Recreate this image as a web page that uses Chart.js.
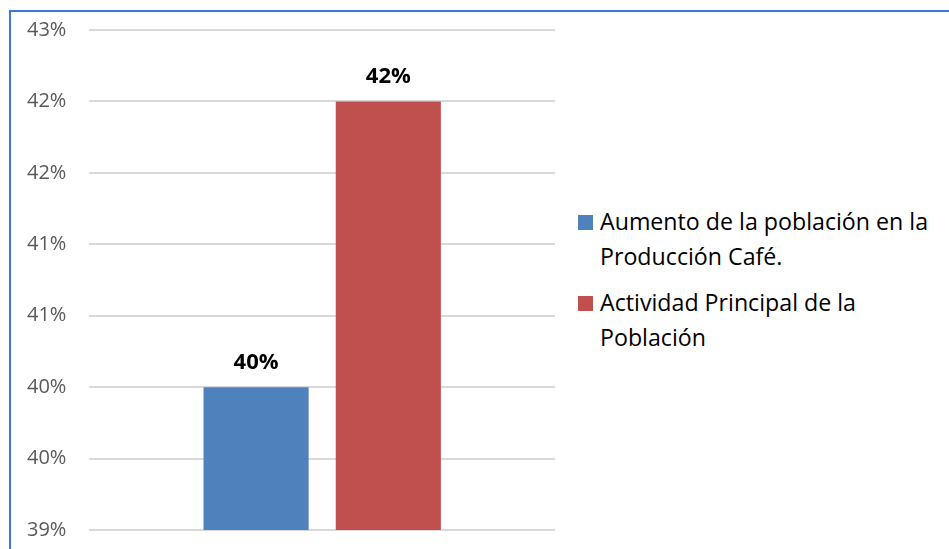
<!DOCTYPE html>
<html>
<head>
<meta charset="utf-8">
<script src="https://cdn.jsdelivr.net/npm/chart.js@4/dist/chart.umd.min.js"></script>
<style>
  html, body { margin: 0; padding: 0; background: #fff; }
  body { width: 949px; height: 549px; position: relative; overflow: hidden; font-family: "Open Sans", sans-serif; }
  #frame { position: absolute; left: 9px; top: 10px; width: 960px; height: 560px; border: 2px solid #3b78d8; box-sizing: border-box; }
  #wrap { position: absolute; left: 0; top: 0; width: 575px; height: 549px; }
  #legend { position: absolute; left: 578px; top: 204px; width: 365px; }
  .item { position: relative; padding-left: 22px; font-size: 23.2px; line-height: 35px; color: #000; margin-bottom: 11px; }
  .sw { position: absolute; left: 0; top: 11px; width: 15px; height: 15px; }
</style>
</head>
<body>
<div id="frame"></div>
<div id="wrap"><canvas id="c" width="575" height="549"></canvas></div>
<div id="legend"></div>
<script>
const categories = [""];
const seriesNames = ["Aumento de la población en la Producción Café.", "Actividad Principal de la Población"];
const seriesValues = [[40], [42]];
const seriesColors = ["#4F81BD", "#C0504D"];
const valueLabels = ["40%", "42%"];
const yMin = 39, yMax = 42.5, yStep = 0.5;

const legend = document.getElementById('legend');
seriesNames.forEach((n, i) => {
  const d = document.createElement('div');
  d.className = 'item';
  d.innerHTML = '<span class="sw" style="background:' + seriesColors[i] + '"></span>' + n;
  legend.appendChild(d);
});

const labelPlugin = {
  id: 'valLabels',
  afterDatasetsDraw(chart) {
    const ctx = chart.ctx;
    ctx.save();
    ctx.font = 'bold 22px "Open Sans", sans-serif';
    ctx.fillStyle = '#000';
    ctx.textAlign = 'center';
    ctx.textBaseline = 'alphabetic';
    chart.data.datasets.forEach((ds, i) => {
      chart.getDatasetMeta(i).data.forEach((bar) => {
        ctx.fillText(valueLabels[i], bar.x, bar.y - 18);
      });
    });
    ctx.restore();
  }
};

new Chart(document.getElementById('c'), {
  type: 'bar',
  data: {
    labels: categories,
    datasets: seriesNames.map((n, i) => ({
      label: n,
      data: seriesValues[i],
      backgroundColor: seriesColors[i],
      categoryPercentage: 0.568,
      barPercentage: 0.795
    }))
  },
  options: {
    responsive: false,
    animation: false,
    layout: { padding: { top: 30, bottom: 19, left: 27, right: 20 } },
    plugins: { legend: { display: false }, tooltip: { enabled: false } },
    scales: {
      x: { display: false },
      y: {
        min: yMin, max: yMax,
        ticks: { stepSize: yStep, padding: 0, color: '#595959', font: { family: 'Open Sans', size: 20 },
          callback: (v) => Math.round(v) + '%' },
        grid: { color: '#D9D9D9', lineWidth: 2, drawTicks: true, tickLength: 23, tickColor: 'rgba(0,0,0,0)' },
        border: { display: false }
      }
    }
  },
  plugins: [labelPlugin]
});
</script>
</body>
</html>
